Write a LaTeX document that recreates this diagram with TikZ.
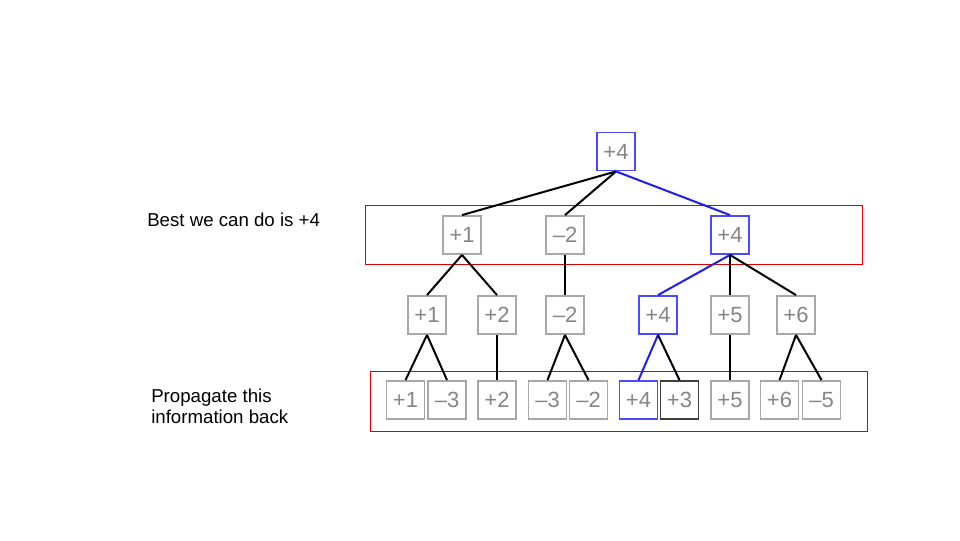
\documentclass[tikz,border=0pt]{standalone}
\usepackage{fontspec}
\setmainfont{Liberation Sans}
\definecolor{boxgray}{HTML}{A8A8A8}
\definecolor{txtgray}{HTML}{858585}
\definecolor{boxblue}{HTML}{4A4AFF}
\definecolor{edgeblue}{HTML}{1E1EF0}
\definecolor{redframe}{HTML}{E00000}
\definecolor{darkbox}{HTML}{404040}
\begin{document}
\begin{tikzpicture}[x=0.75pt,y=-0.75pt,
  tbox/.style={draw=boxgray,line width=1.4pt,minimum width=28.5pt,minimum height=28.5pt,inner sep=0pt,
    text=txtgray,font=\fontsize{16.5}{18}\selectfont},
  bluebox/.style={tbox,draw=boxblue},
  darkb/.style={tbox,draw=darkbox},
  edge/.style={line width=1.5pt,black},
  bedge/.style={line width=1.5pt,edgeblue},
  frame/.style={draw=redframe,line width=0.75pt},
  note/.style={font=\fontsize{14}{15.75}\selectfont,anchor=base west,inner sep=0pt,align=left}]
\useasboundingbox (0,0) rectangle (960,540);
% red frames
\draw[frame] (365,205) rectangle (862,264);
\draw[frame] (370,371) rectangle (867,431);
% nodes
\node[bluebox] (r) at (616,151.5) {+4};
\node[tbox] (a) at (462,235) {+1};
\node[tbox] (b) at (565,235) {–2};
\node[bluebox] (c) at (730,235) {+4};
\node[tbox] (a1) at (427,315) {+1};
\node[tbox] (a2) at (497,315) {+2};
\node[tbox] (b1) at (565,315) {–2};
\node[bluebox] (c1) at (658,315) {+4};
\node[tbox] (c2) at (730,315) {+5};
\node[tbox] (c3) at (796,315) {+6};
\node[tbox] (l1) at (405.5,400) {+1};
\node[tbox] (l2) at (447,400) {–3};
\node[tbox] (l3) at (497,400) {+2};
\node[tbox] (l4) at (547.5,400) {–3};
\node[tbox] (l5) at (588.5,400) {–2};
\node[bluebox] (l6) at (638.5,400) {+4};
\node[darkb] (l7) at (679.5,400) {+3};
\node[tbox] (l8) at (730,400) {+5};
\node[tbox] (l9) at (779.5,400) {+6};
\node[tbox] (l10) at (821.5,400) {–5};
% edges
\draw[edge] (r.south) -- (a.north);
\draw[edge] (r.south) -- (b.north);
\draw[bedge] (r.south) -- (c.north);
\draw[edge] (a.south) -- (a1.north);
\draw[edge] (a.south) -- (a2.north);
\draw[edge] (b.south) -- (b1.north);
\draw[bedge] (c.south) -- (c1.north);
\draw[edge] (c.south) -- (c2.north);
\draw[edge] (c.south) -- (c3.north);
\draw[edge] (a1.south) -- (l1.north);
\draw[edge] (a1.south) -- (l2.north);
\draw[edge] (a2.south) -- (l3.north);
\draw[edge] (b1.south) -- (l4.north);
\draw[edge] (b1.south) -- (l5.north);
\draw[bedge] (c1.south) -- (l6.north);
\draw[edge] (c1.south) -- (l7.north);
\draw[edge] (c2.south) -- (l8.north);
\draw[edge] (c3.south) -- (l9.north);
\draw[edge] (c3.south) -- (l10.north);
% notes
\node[note] (n1) at (147,226) {Best we can do is +4};
\node[note] (n2) at (151,423) {Propagate this\\information back};
\end{tikzpicture}
\end{document}
